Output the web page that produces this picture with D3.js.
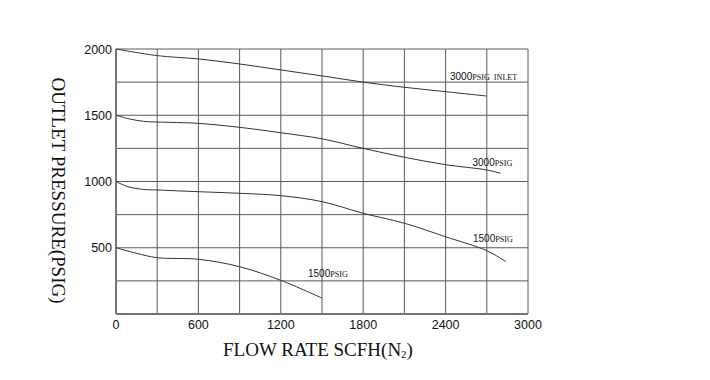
<!DOCTYPE html>
<html>
<head>
<meta charset="utf-8">
<script src="https://cdn.jsdelivr.net/npm/d3@7"></script>
<style>
  html, body { margin: 0; padding: 0; background: #fff; }
  svg { display: block; }
</style>
</head>
<body>
<svg id="chart" width="710" height="380"></svg>
<script>
// ---- data ----
const xTicks = [0, 600, 1200, 1800, 2400, 3000];
const yTicks = [500, 1000, 1500, 2000];
const xGrid = [300, 600, 900, 1200, 1500, 1800, 2100, 2400, 2700, 3000];
const yGrid = [250, 500, 750, 1000, 1250, 1500, 1750, 2000];

const inlet3000Flow = [0, 300, 600, 900, 1200, 1500, 1800, 2100, 2400, 2700];
const inlet3000Pres = [2000, 1950, 1925, 1887, 1842, 1797, 1750, 1711, 1678, 1645];

const psig3000Flow = [0, 100, 200, 300, 600, 900, 1200, 1500, 1800, 2100, 2400, 2700, 2800];
const psig3000Pres = [1500, 1472, 1454, 1449, 1439, 1409, 1368, 1322, 1250, 1183, 1127, 1087, 1062];

const psig1500aFlow = [0, 80, 200, 300, 600, 900, 1200, 1500, 1800, 2100, 2400, 2700, 2840];
const psig1500aPres = [1000, 963, 940, 936, 923, 911, 893, 848, 760, 685, 583, 478, 395];

const psig1500bFlow = [0, 150, 300, 600, 900, 1200, 1500];
const psig1500bPres = [500, 458, 425, 413, 357, 254, 120];

const labelNums = ["3000", "3000", "1500", "1500"];
const labelUnits = ["PSIG  INLET", "PSIG", "PSIG", "PSIG"];

const xTitle = "FLOW RATE SCFH(N";
const xTitleSub = "2";
const yTitle = "OUTLET PRESSURE(PSIG)";

// ---- drawing ----
const svg = d3.select("#chart");
const x = d3.scaleLinear().domain([0, 3000]).range([116, 528]);
const y = d3.scaleLinear().domain([0, 2000]).range([314, 49]);

const gridColor = "#5a5a5a";

// grid
svg.append("g").selectAll("line").data(yGrid).join("line")
  .attr("x1", x(0)).attr("x2", x(3000))
  .attr("y1", d => y(d)).attr("y2", d => y(d))
  .attr("stroke", gridColor).attr("stroke-width", 1);
svg.append("g").selectAll("line").data(xGrid).join("line")
  .attr("x1", d => x(d)).attr("x2", d => x(d))
  .attr("y1", y(0)).attr("y2", y(2000))
  .attr("stroke", gridColor).attr("stroke-width", 1);

// axis lines
svg.append("line").attr("x1", x(0)).attr("x2", x(0)).attr("y1", y(0)).attr("y2", y(2000))
  .attr("stroke", "#777").attr("stroke-width", 2);
svg.append("line").attr("x1", x(0)).attr("x2", x(3000)).attr("y1", y(0)).attr("y2", y(0))
  .attr("stroke", "#777").attr("stroke-width", 2);

// tick labels
const tickFont = "'Liberation Sans', Arial, sans-serif";
svg.append("g").selectAll("text").data(yTicks).join("text")
  .attr("x", 112).attr("y", d => y(d))
  .attr("dy", "0.36em")
  .attr("text-anchor", "end")
  .attr("font-family", tickFont).attr("font-size", 12.5).attr("fill", "#111")
  .text(d => d);
svg.append("g").selectAll("text").data(xTicks).join("text")
  .attr("x", d => x(d)).attr("y", 329)
  .attr("text-anchor", "middle")
  .attr("font-family", tickFont).attr("font-size", 12.5).attr("fill", "#111")
  .text(d => d);

// curves
const line = d3.line().x(d => x(d[0])).y(d => y(d[1])).curve(d3.curveCatmullRom.alpha(0.5));
const series = [
  d3.zip(inlet3000Flow, inlet3000Pres),
  d3.zip(psig3000Flow, psig3000Pres),
  d3.zip(psig1500aFlow, psig1500aPres),
  d3.zip(psig1500bFlow, psig1500bPres)
];
svg.append("g").selectAll("path").data(series).join("path")
  .attr("d", line)
  .attr("fill", "none")
  .attr("stroke", "#333")
  .attr("stroke-width", 1);

// curve labels
const labelPos = [[450, 80], [472.5, 166], [473, 242], [308, 277]];
labelNums.forEach((n, i) => {
  const t = svg.append("text")
    .attr("x", labelPos[i][0]).attr("y", labelPos[i][1])
    .attr("fill", "#111")
    .attr("xml:space", "preserve")
    .style("white-space", "pre");
  t.append("tspan").attr("font-family", tickFont).attr("font-size", 10).text(n);
  t.append("tspan").attr("font-family", "'Liberation Serif', 'Times New Roman', serif")
    .attr("font-size", 8.1).text(labelUnits[i]);
});

// axis titles
const serif = "'Liberation Serif', 'Times New Roman', serif";
const xt = svg.append("text")
  .attr("x", 318).attr("y", 356)
  .attr("text-anchor", "middle")
  .attr("font-family", serif).attr("font-size", 19).attr("fill", "#111");
xt.append("tspan").text(xTitle);
xt.append("tspan").attr("font-size", 11).attr("dy", 2).text(xTitleSub);
xt.append("tspan").attr("dy", -2).text(")");

svg.append("text")
  .attr("transform", "translate(52,190.5) rotate(90)")
  .attr("text-anchor", "middle")
  .attr("font-family", serif).attr("font-size", 19).attr("fill", "#111")
  .text(yTitle);
</script>
</body>
</html>
